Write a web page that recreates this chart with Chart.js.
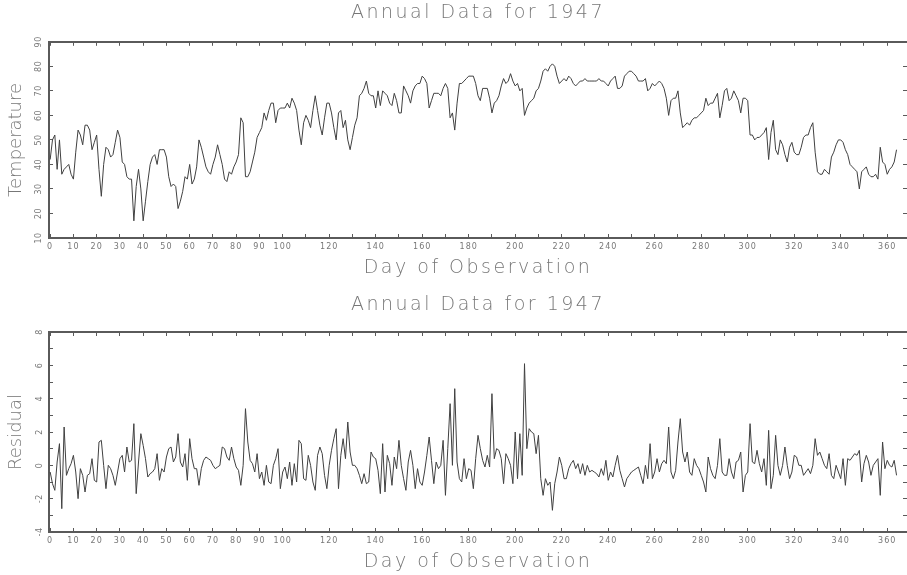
<!DOCTYPE html>
<html>
<head>
<meta charset="utf-8">
<script src="https://cdn.jsdelivr.net/npm/chart.js@4.4.1/dist/chart.umd.min.js"></script>
<style>
  html, body { margin: 0; padding: 0; background: #ffffff; }
  #wrap { position: relative; width: 907px; height: 575px; overflow: hidden; }
  canvas { display: block; }
</style>
</head>
<body>
<div id="wrap">
  <canvas id="temp" width="907" height="290"></canvas>
  <canvas id="resid" width="907" height="285"></canvas>
</div>
<script>
// Daily mean temperature, 1947 (day 0 .. 364)
const temperature = [
  42,50,52,38,50,36,38,39,40,36,34,45,54,52,48,56,56,54,46,49,
  52,38,27,40,47,46,43,44,49,54,51,41,40,35,34,34,17,31,38,30,
  17,25,33,40,43,44,40,46,46,46,43,35,31,32,31,22,25,29,35,34,
  40,32,34,39,50,47,43,39,37,36,40,43,48,44,40,34,33,37,36,39,
  41,44,59,57,35,35,37,41,45,51,53,55,61,58,62,65,65,57,62,63,
  63,63,65,63,67,65,62,54,48,57,60,58,55,62,68,62,56,52,59,65,
  65,61,55,50,61,62,55,58,50,46,51,56,59,68,69,71,74,69,68,68,
  63,70,64,70,69,68,65,64,69,66,61,61,72,70,68,65,70,72,73,73,
  76,75,73,63,66,69,69,69,68,71,73,71,59,61,54,65,73,73,74,75,
  76,76,76,73,68,66,71,71,71,67,61,65,66,68,72,75,73,74,77,74,
  72,73,70,71,60,63,65,66,67,70,71,74,78,79,78,80,81,80,76,73,
  74,75,74,76,75,73,72,73,74,74,75,74,74,74,74,74,75,74,74,73,
  72,74,75,76,71,71,72,76,77,78,78,77,76,74,74,74,75,70,71,73,
  72,73,74,73,71,67,60,66,67,67,70,61,55,56,57,56,58,59,59,60,
  61,62,67,64,65,65,67,69,59,64,70,71,66,67,70,68,66,61,67,67,
  66,52,52,50,51,51,52,53,55,42,53,58,46,44,50,48,44,41,47,49,
  45,44,44,47,51,52,52,55,57,45,37,36,36,38,37,36,43,45,48,50,
  50,49,46,44,40,39,38,37,30,37,38,39,36,35,35,36,34,47,41,40,
  36,38,39,41,46
];

// Residuals of the daily temperature model
const residual = [
  -0.4,-1.1,-1.5,0.2,1.3,-2.6,2.3,-0.6,-0.2,0.1,0.6,-0.4,-2.0,-0.2,-0.6,-1.6,-0.6,-0.5,0.4,-0.9,
  -1.0,1.4,1.5,0.0,-1.4,0.0,-0.2,-0.6,-1.2,-0.4,0.4,0.6,-0.4,1.1,0.2,0.3,2.5,-1.7,0.2,1.9,
  1.2,0.4,-0.7,-0.5,-0.4,-0.2,0.7,-0.9,-0.2,-0.4,0.5,1.0,1.1,0.2,0.5,1.9,0.2,-0.1,0.7,-0.9,
  1.6,0.4,-0.2,-0.2,-1.2,-0.2,0.3,0.5,0.4,0.3,0.0,-0.2,-0.1,0.0,1.1,1.0,0.5,0.3,1.1,0.4,
  -0.1,-0.3,-1.2,0.0,3.4,1.4,0.3,0.1,-0.4,0.7,-0.8,-0.4,-1.2,0.0,-1.0,-1.1,0.0,0.4,1.0,-1.4,
  -0.4,-0.1,-0.8,0.2,-1.2,0.1,-1.0,1.5,1.3,-0.8,-0.9,0.6,0.0,-1.0,-1.5,0.6,1.1,0.7,-0.6,-1.4,
  0.0,0.9,1.6,2.2,-1.4,0.6,1.6,0.4,2.6,0.8,0.0,0.0,-0.2,-0.6,-1.1,-0.5,-1.1,-1.0,0.8,0.5,
  0.4,-0.3,-1.7,1.3,-1.6,0.6,0.1,-1.2,0.5,-0.2,1.5,0.0,-0.8,-1.5,0.2,0.9,0.0,-1.4,-0.2,-1.0,
  -1.2,-0.4,0.6,1.7,0.3,-1.1,0.2,-0.2,0.0,1.5,-1.8,1.0,3.7,0.0,4.6,0.2,-0.8,-1.0,0.4,-0.8,
  -0.2,-0.3,-1.4,0.4,1.8,1.0,0.3,-0.1,0.6,-0.1,4.3,0.4,1.0,0.9,0.4,-1.1,0.7,0.4,0.0,-1.1,
  2.0,-0.8,1.9,-0.6,6.1,1.0,2.2,2.0,1.9,0.7,1.8,-0.8,-1.8,-0.8,-1.2,-1.0,-2.7,-1.1,-0.4,0.5,
  0.0,-0.8,-0.8,-0.2,0.1,0.3,-0.2,0.1,-0.5,0.1,-0.6,0.0,-0.4,-0.3,-0.4,-0.5,-0.7,-0.2,-0.6,0.3,
  -0.9,-0.4,-0.7,0.0,0.6,-0.3,-0.8,-1.3,-0.8,-0.6,-0.4,-0.3,-0.2,-0.1,-0.6,-1.1,0.0,-0.8,1.3,-0.8,
  -0.4,0.4,-0.4,0.1,0.3,0.1,2.3,-0.4,-0.8,-0.3,1.4,2.8,0.8,0.2,0.8,-0.4,-0.6,0.4,0.0,-0.2,
  -0.6,-1.0,-1.6,0.5,-0.2,-0.6,-0.8,0.0,1.6,-0.4,-0.6,-0.6,0.4,-0.4,-0.8,0.2,0.3,0.8,-1.6,-0.6,
  -0.4,2.5,0.2,0.1,0.9,0.1,-0.4,0.4,-1.2,2.1,-1.4,-0.6,1.8,0.0,-0.6,0.0,1.1,0.0,-0.8,-0.4,
  0.6,0.5,0.0,0.0,-0.6,-0.4,-0.2,-0.5,0.0,1.6,0.6,0.8,0.4,0.0,-0.2,0.7,-0.6,-0.8,0.0,-0.4,
  -0.8,0.4,-1.2,0.4,0.3,0.5,0.7,0.6,0.9,-1.0,0.1,0.6,0.2,-0.6,0.0,0.2,0.4,-1.8,1.4,-0.2,
  0.3,0.0,-0.1,0.3,-0.6
];

// Day index of each observation
const days = temperature.map((_, i) => i);

const chartTitle = 'Annual Data for 1947';
const xAxisTitle = 'Day of Observation';
const tempTitle = 'Temperature';
const residTitle = 'Residual';

const FAMILY = "'DejaVu Sans', 'Liberation Sans', sans-serif";
const TEXT = '#777777';
const AXIS = '#5a5a5a';
const LINE = '#404040';
const bigFont = { family: FAMILY, size: 19, weight: '200' };
const sideFont = { family: FAMILY, size: 18, weight: '200' };
const smallFont = { family: FAMILY, size: 8, weight: 'normal' };

// Wide tracking for the chart title and the day-axis title
const tracking = {
  id: 'tracking',
  beforeDraw(chart) { chart.ctx.letterSpacing = '2.5px'; },
  afterDraw(chart) { chart.ctx.letterSpacing = '0px'; }
};

// Run one drawing step of a scale with its own letter spacing
function withSpacing(scale, method, spacing) {
  const original = scale[method];
  scale[method] = function (...args) {
    const ctx = this.ctx;
    ctx.save();
    ctx.letterSpacing = spacing;
    original.apply(this, args);
    ctx.restore();
  };
}

const inwardGrid = { drawOnChartArea: false, drawTicks: true, tickLength: -4, tickColor: AXIS, tickWidth: 1 };
const frame = { display: true, color: AXIS, width: 2 };

function panel(el, values, o) {
  const chart = new Chart(el, {
    type: 'line',
    data: {
      labels: days,
      datasets: [{
        data: values,
        borderColor: LINE,
        borderWidth: 1,
        pointRadius: 0,
        tension: 0,
        fill: false
      }]
    },
    options: {
      responsive: false,
      animation: false,
      events: [],
      layout: { padding: 0 },
      plugins: {
        legend: { display: false },
        tooltip: { enabled: false },
        title: {
          display: true, text: chartTitle, fullSize: false, color: TEXT, font: bigFont,
          padding: { top: o.titleTop, bottom: o.titleBottom }
        }
      },
      scales: {
        x: {
          type: 'linear', position: 'bottom', min: -0.5, max: 368.5,
          afterFit: s => { s.height = o.xHeight; },
          border: frame, grid: inwardGrid,
          ticks: {
            stepSize: 10, includeBounds: false, autoSkip: false, maxRotation: 0, minRotation: 0,
            padding: o.xTickPad, color: TEXT, font: smallFont,
            callback: v => (v <= 100 || v % 20 === 0) ? String(v) : ''
          },
          title: { display: true, text: xAxisTitle, color: TEXT, font: bigFont, padding: { top: 0, bottom: o.xTitleBottom } }
        },
        x2: {
          type: 'linear', position: 'top', min: -0.5, max: 368.5,
          afterFit: s => { s.height = 0; },
          border: frame, grid: inwardGrid,
          ticks: { display: false, stepSize: 10, includeBounds: false, autoSkip: false }
        },
        y: {
          type: 'linear', position: 'left', min: o.yMin, max: o.yMax,
          afterFit: s => { s.width = 49; },
          border: frame, grid: inwardGrid,
          ticks: {
            stepSize: o.yStep, minRotation: 90, maxRotation: 90, crossAlign: 'center',
            padding: 9, color: TEXT, font: smallFont,
            callback: o.yLabel
          },
          title: { display: true, text: o.yTitle, color: TEXT, font: sideFont, padding: { top: 6, bottom: 0 } }
        },
        y2: {
          type: 'linear', position: 'right', min: o.yMin, max: o.yMax,
          afterFit: s => { s.width = 0; },
          border: { display: false }, grid: inwardGrid,
          ticks: { display: false, stepSize: o.yStep }
        }
      }
    },
    plugins: [tracking]
  });
  withSpacing(chart.scales.x, 'drawLabels', '1px');
  withSpacing(chart.scales.y, 'drawLabels', '0.5px');
  withSpacing(chart.scales.y, 'drawTitle', '0px');
  chart.draw();
  return chart;
}

panel(document.getElementById('temp'), temperature, {
  titleTop: 2, titleBottom: 17, xHeight: 52, xTickPad: 8.5, xTitleBottom: 10.6,
  yMin: 10, yMax: 90, yStep: 10, yTitle: tempTitle,
  yLabel: v => String(v)
});

panel(document.getElementById('resid'), residual, {
  titleTop: 4, titleBottom: 15.2, xHeight: 43, xTickPad: 7.7, xTitleBottom: 1.1,
  yMin: -4, yMax: 8, yStep: 1, yTitle: residTitle,
  yLabel: v => (v % 2 === 0) ? String(v) : ''
});
</script>
</body>
</html>
